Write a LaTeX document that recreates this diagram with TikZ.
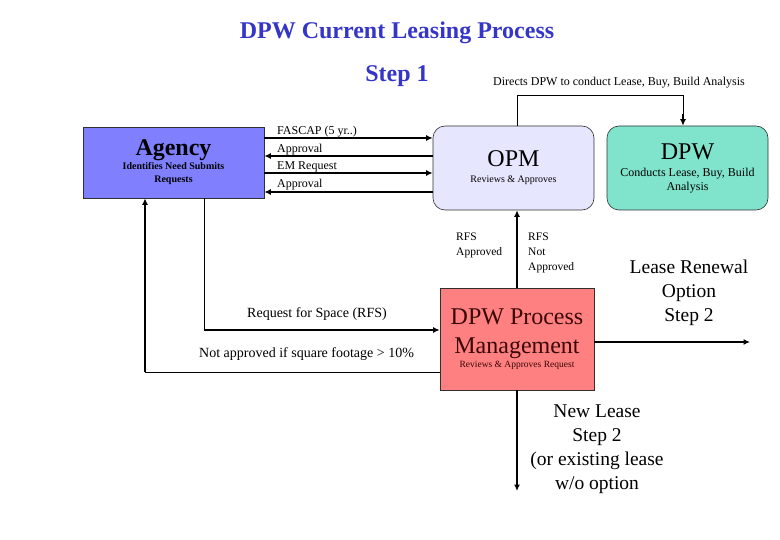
\documentclass[tikz,border=0pt]{standalone}
\usepackage{fontspec}
\setmainfont{Liberation Serif}
\usetikzlibrary{arrows.meta}
\definecolor{ttl}{HTML}{3535C8}
\definecolor{agc}{HTML}{8080FF}
\definecolor{opmc}{HTML}{E6E6FF}
\definecolor{dpwc}{HTML}{80E4CC}
\definecolor{prc}{HTML}{FF8080}
\definecolor{prt}{HTML}{3A0808}
\definecolor{edge}{HTML}{303030}
\newcommand\fsH{\fontsize{24}{28}\selectfont}
\newcommand\fsB{\fontsize{24}{26}\selectfont}
\newcommand\fsS{\fontsize{19.5}{24}\selectfont}
\newcommand\fsL{\fontsize{12}{15}\selectfont}
\newcommand\fsR{\fontsize{11.5}{15}\selectfont}
\newcommand\fsM{\fontsize{14}{17}\selectfont}

\begin{document}
\begin{tikzpicture}[x=1pt,y=-1pt,
  title/.style={font=\fsH\bfseries,text=ttl,inner sep=0,anchor=base},
  box/.style={draw=edge,line width=0.6pt,align=center,inner sep=0},
  lbl/.style={font=\fsL,inner sep=0,anchor=base west},
  big/.style={font=\fsS,align=center,inner sep=0},
  thin/.style={line width=0.8pt},
  thick/.style={line width=1.8pt},
  arr/.style={-{Latex[length=6.5pt,width=6pt]}}]
\useasboundingbox (0,0) rectangle (780,540);
% ============ headings ============
\node[title] (head) at (397,39) {DPW Current Leasing Process};
\node[title] (step) at (397,82) {Step 1};
% ============ boxes ============
\node[box,fill=agc,font=\fontsize{10}{13}\selectfont\bfseries,minimum width=181,minimum height=71] (agency) at (173.5,162.5)
  {{\fsB Agency}\\[1pt]Identifies Need Submits\\Requests};
\node[box,fill=opmc,font=\fontsize{10}{16}\selectfont,rounded corners=12pt,minimum width=161,minimum height=84] (opm) at (513.5,168)
  {{\fsB OPM}\\Reviews \& Approves};
\node[box,fill=dpwc,font=\fontsize{12}{14}\selectfont,rounded corners=12pt,minimum width=161,minimum height=84] (dpw) at (687.5,168)
  {{\fsB DPW}\\[3pt]Conducts Lease, Buy, Build\\Analysis};
\node[box,fill=prc,text=prt,font=\fontsize{24}{29}\selectfont,minimum width=154,minimum height=102] (proc) at (517,339)
  {DPW Process\\Management\\[-15pt]{\fontsize{9.5}{11}\selectfont Reviews \& Approves Request}};
% ============ agency <-> opm ============
\draw[thick,arr] (agency.east |- 0,138) -- (opm.west |- 0,138);
\draw[thick,arr] (opm.west |- 0,156) -- (agency.east |- 0,156);
\draw[thick,arr] (agency.east |- 0,173) -- (opm.west |- 0,173);
\draw[thick,arr] (opm.west |- 0,192) -- (agency.east |- 0,192);
\node[lbl] (fascap) at (277,135) {FASCAP (5 yr..)};
\node[lbl] (appr1) at (277,153) {Approval};
\node[lbl] (emreq) at (277,170) {EM Request};
\node[lbl] (appr2) at (277,188) {Approval};
% ============ opm -> dpw ============
\draw[thin] (opm.north -| 517,0) -- ++(0,-30) coordinate (dtop) -| (683,115);
\draw[thick,arr] (683,114) -- (dpw.north -| 683,0);
\node[lbl,anchor=base] (directs) at (619,86) {Directs DPW to conduct Lease, Buy, Build Analysis};
% ============ process -> opm ============
\draw[thick,arr] (proc.north) -- (proc.north |- opm.south);
\node[font=\fsR,align=left,inner sep=0,anchor=north west] (rfsok) at (456,233) {RFS\\Approved};
\node[font=\fsR,align=left,inner sep=0,anchor=north west] (rfsno) at (528,233) {RFS\\Not\\Approved};
% ============ agency -> process and back ============
\draw[thin] (agency.south -| 204,0) -- (204,330) coordinate (rfsc);
\draw[thick,arr] (rfsc) -- ([yshift=9pt]proc.west);
\node[lbl,font=\fsM] (rfs) at (247,318) {Request for Space (RFS)};
\draw[thin] ([yshift=-33pt]proc.west) -- (145,372) coordinate (noc);
\draw[thick,arr] (noc) -- (agency.south -| 145,0);
\node[lbl,font=\fsM] (notok) at (199,358) {Not approved if square footage > 10\%};
% ============ step 2 ============
\coordinate (renew) at (750,342);
\draw[thick,arr] ([yshift=-3pt]proc.east) -- (renew);
\node[big] (renlbl) at (689,293) {Lease Renewal\\Option\\Step 2};
\coordinate (newl) at (517,491);
\draw[thick,arr] (proc.south) -- (newl);
\node[big] (newlbl) at (597,449) {New Lease\\Step 2\\(or existing lease\\w/o option};
\end{tikzpicture}
\end{document}
